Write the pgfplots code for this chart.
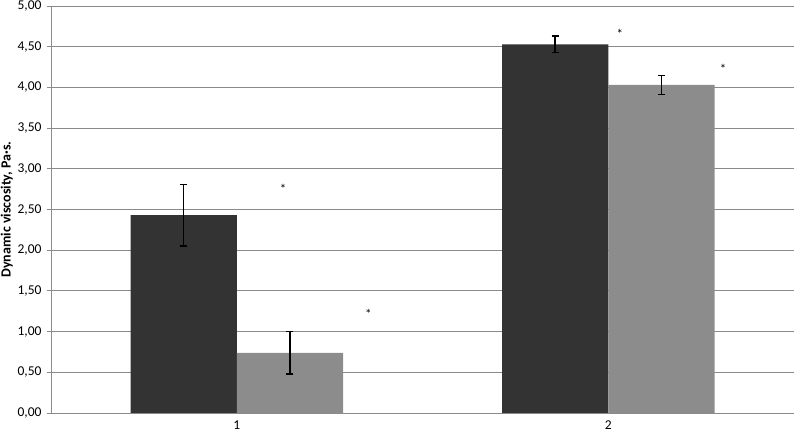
\documentclass[border=0pt]{standalone}
\usepackage{pgfplots}
\pgfplotsset{compat=1.18}
\usepackage{fontspec}
\setmainfont{Carlito}
\definecolor{darkbar}{HTML}{333333}
\definecolor{lightbar}{HTML}{8C8C8C}
\definecolor{gridc}{HTML}{8A8A8A}
\begin{document}
\begin{tikzpicture}
\begin{axis}[
  scale only axis, width=743pt, height=407pt,
  xmin=0.5, xmax=2.5, ymin=0, ymax=5,
  axis x line=bottom, axis y line=left,
  axis line style={gridc, line width=0.8pt, -},
  ytick={0,0.5,...,5},
  ymajorgrids, grid style={gridc, line width=0.8pt},
  tick align=outside,
  y tick style={gridc, line width=0.8pt},
  major tick length=4pt,
  xtick={1,2}, xticklabels={1,2},
  x tick style={draw=none},
  extra x ticks={0.5,1.5,2.5}, extra x tick labels={},
  extra x tick style={x tick style={gridc, line width=0.8pt}, major tick length=4pt, grid=none},
  /pgf/number format/.cd, fixed, fixed zerofill, precision=2, use comma, assume math mode=true,
  /pgfplots/.cd,
  ticklabel style={font=\fontsize{13.5}{15}\selectfont},
  yticklabel style={xshift=-2pt},
  ylabel={\textbf{Dynamic viscosity, Pa·s.}},
  ylabel style={font=\fontsize{14}{16}\selectfont, yshift=-2pt},
  clip=false,
]
\addplot[ybar, bar shift=0pt, bar width=0.286, fill=darkbar, draw=none,
  error bars/.cd, y dir=both, y explicit,
  error bar style={black, line width=1.6pt},
  error mark options={black, rotate=90, mark size=3.5pt, line width=1.6pt}]
  coordinates {(0.857,2.43) +- (0,0.375) (1.857,4.53) +- (0,0.10)};
\addplot[ybar, bar shift=0pt, bar width=0.286, fill=lightbar, draw=none,
  error bars/.cd, y dir=both, y explicit,
  error bar style={black, line width=1.6pt},
  error mark options={black, rotate=90, mark size=3.5pt, line width=1.6pt}]
  coordinates {(1.143,0.74) +- (0,0.26) (2.143,4.03) +- (0,0.115)};
\addplot[draw=none, mark=none, nodes near coords={*}, nodes near coords align={center},
  every node near coord/.style={font=\fontsize{13}{14}\selectfont, inner sep=0pt, yshift=-1pt}]
  coordinates {(1.125,2.76) (1.354,1.23) (2.031,4.67) (2.309,4.24)};
\end{axis}
\pgfresetboundingbox
\path (-51pt,-22pt) rectangle (743pt,413pt);
\end{tikzpicture}
\end{document}
